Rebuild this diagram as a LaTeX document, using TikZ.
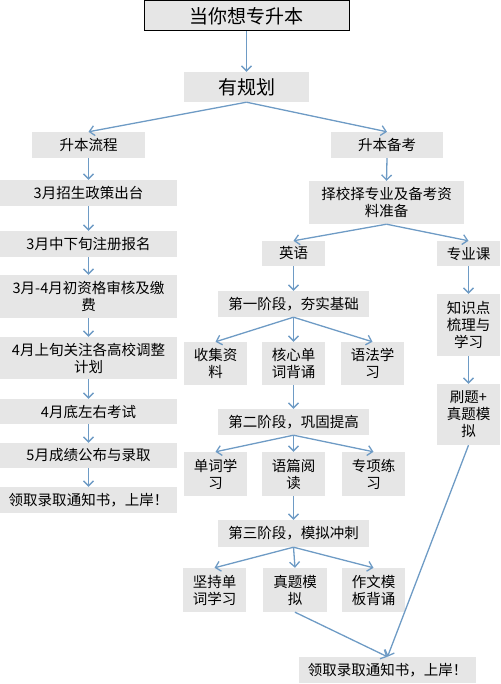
\documentclass[tikz,border=0pt]{standalone}
\usepackage{fontspec}
\setmainfont{Noto Sans CJK SC}
\usetikzlibrary{arrows.meta}
\definecolor{boxgray}{HTML}{E6E6E6}
\definecolor{arrowc}{HTML}{6E9BC5}
\tikzset{
  box/.style={fill=boxgray, inner sep=0pt, align=center, font=\fontsize{14.5}{17}\selectfont},
  bigbox/.style={box, font=\fontsize{19}{22}\selectfont},
  conn/.style={draw=arrowc, line width=1.3pt, -{Straight Barb[length=5pt,width=10pt]}}
}
\newcommand{\bx}[6]{\node[#1, minimum width=#4pt, minimum height=#5pt] (#2) at (#3) {#6};}
\begin{document}
\begin{tikzpicture}[x=1pt,y=-1pt]
\useasboundingbox (0,0) rectangle (500,684);
% top
\node[bigbox, draw=black, line width=1pt, minimum width=205pt, minimum height=30pt] (title) at (246.5,16) {当你想专升本};
\bx{bigbox}{plan}{246.5,87}{125}{30}{有规划}
\bx{box}{flow}{88.5,145}{113}{26}{升本流程}
\bx{box}{prep}{387,145}{112}{26}{升本备考}
% left column
\bx{box}{l1}{88.5,193}{177}{26}{3月招生政策出台}
\bx{box}{l2}{88.5,244}{177}{26}{3月中下旬注册报名}
\bx{box}{l3}{88.5,296.5}{177}{43}{3月-4月初资格审核及缴\\费}
\bx{box}{l4}{88.5,358}{177}{42}{4月上旬关注各高校调整\\计划}
\bx{box}{l5}{88.5,411.5}{177}{25}{4月底左右考试}
\bx{box}{l6}{88.5,455.5}{177}{25}{5月成绩公布与录取}
\bx{box}{l7}{88.5,500}{177}{26}{领取录取通知书，上岸！}
% right side
\bx{box}{sel}{386.5,202.5}{155}{43}{择校择专业及备考资\\料准备}
\bx{box}{eng}{293.5,253.5}{63}{25}{英语}
\bx{box}{maj}{468.5,253.5}{63}{25}{专业课}
\bx{box}{s1}{293.5,304}{151}{26}{第一阶段，夯实基础}
\bx{box}{a1}{215.5,363.5}{63}{43}{收集资\\料}
\bx{box}{a2}{293.5,363.5}{63}{43}{核心单\\词背诵}
\bx{box}{a3}{372.5,363.5}{63}{43}{语法学\\习}
\bx{box}{s2}{293.5,422}{151}{26}{第二阶段，巩固提高}
\bx{box}{b1}{215.5,474}{63}{44}{单词学\\习}
\bx{box}{b2}{293.5,474}{63}{44}{语篇阅\\读}
\bx{box}{b3}{373.5,474}{63}{44}{专项练\\习}
\bx{box}{s3}{293.5,533.5}{151}{27}{第三阶段，模拟冲刺}
\bx{box}{c1}{214.5,590}{63}{44}{坚持单\\词学习}
\bx{box}{c2}{295,590}{64}{44}{真题模\\拟}
\bx{box}{c3}{373.5,590}{63}{44}{作文模\\板背诵}
\bx{box}{k1}{468.5,325}{63}{62}{知识点\\梳理与\\学习}
\bx{box}{k2}{468.5,414.5}{63}{61}{刷题+\\真题模\\拟}
\bx{box}{fin}{387.5,670}{177}{26}{领取录取通知书，上岸！}
% connectors
\draw[conn] (title.south) -- (plan.north);
\draw[conn] (plan.south) -- (flow.north);
\draw[conn] (plan.south) -- (prep.north);
\draw[conn] (flow.south) -- (l1.north);
\draw[conn] (l1.south) -- (l2.north);
\draw[conn] (l2.south) -- (l3.north);
\draw[conn] (l3.south) -- (l4.north);
\draw[conn] (l4.south) -- (l5.north);
\draw[conn] (l5.south) -- (l6.north);
\draw[conn] (l6.south) -- (l7.north);
\draw[conn] (prep.south) -- (sel.north);
\draw[conn] (sel.south) -- (eng.north);
\draw[conn] (sel.south) -- (maj.north);
\draw[conn] (eng.south) -- (s1.north);
\draw[conn] (s1.south) -- (a1.north);
\draw[conn] (s1.south) -- (a2.north);
\draw[conn] (s1.south) -- (a3.north);
\draw[conn] (a2.south) -- (s2.north);
\draw[conn] (s2.south) -- (b1.north);
\draw[conn] (s2.south) -- (b2.north);
\draw[conn] (s2.south) -- (b3.north);
\draw[conn] (b2.south) -- (s3.north);
\draw[conn] (s3.south) -- (c1.north);
\draw[conn] (s3.south) -- (c2.north);
\draw[conn] (s3.south) -- (c3.north);
\draw[conn] (maj.south) -- (k1.north);
\draw[conn] (k1.south) -- (k2.north);
\draw[conn] (k2.south) -- (fin.north);
\draw[conn] (c2.south) -- (fin.north);
\end{tikzpicture}
\end{document}
